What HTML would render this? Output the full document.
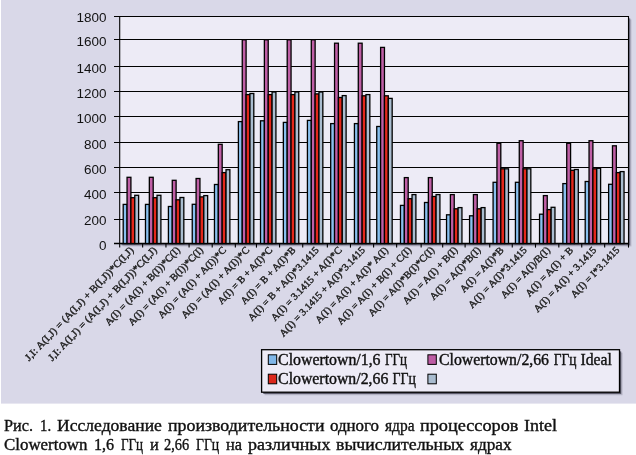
<!DOCTYPE html>
<html lang="ru"><head><meta charset="utf-8"><title>Рис. 1</title>
<style>
html,body{margin:0;padding:0;background:#fff;}
body{width:636px;height:455px;position:relative;overflow:hidden;font-family:"Liberation Serif",serif;}
.cap span{position:absolute;font-size:17.7px;line-height:normal;color:#111;white-space:nowrap;transform-origin:0 0;display:block;-webkit-text-stroke:0.4px #111}
.cap{position:absolute;left:0;top:404px;width:636px;height:51px;filter:grayscale(1)}
</style></head><body>
<svg width="636" height="404" viewBox="0 0 636 404" style="position:absolute;left:0;top:0">
<rect x="1" y="0" width="635" height="403.6" fill="#d9d8e8"/>
<rect x="122.60" y="19.4" width="508.80" height="227.00" fill="#8f8ea0" opacity="0.45"/>
<rect x="121.40" y="18.3" width="508.80" height="227.00" fill="#55546a" opacity="0.75"/>
<rect x="119.70" y="16.5" width="508.80" height="227.00" fill="#edebf6"/>
<line x1="114" y1="16.5" x2="628.50" y2="16.5" stroke="#000" stroke-width="1.1"/>
<line x1="114" y1="39.5" x2="628.50" y2="39.5" stroke="#000" stroke-width="1.1"/>
<line x1="114" y1="66.5" x2="628.50" y2="66.5" stroke="#000" stroke-width="1.1"/>
<line x1="114" y1="91.5" x2="628.50" y2="91.5" stroke="#000" stroke-width="1.1"/>
<line x1="114" y1="116.5" x2="628.50" y2="116.5" stroke="#000" stroke-width="1.1"/>
<line x1="114" y1="142.5" x2="628.50" y2="142.5" stroke="#000" stroke-width="1.1"/>
<line x1="114" y1="167.5" x2="628.50" y2="167.5" stroke="#000" stroke-width="1.1"/>
<line x1="114" y1="192.5" x2="628.50" y2="192.5" stroke="#000" stroke-width="1.1"/>
<line x1="114" y1="219.5" x2="628.50" y2="219.5" stroke="#000" stroke-width="1.1"/>
<line x1="114" y1="243.5" x2="628.50" y2="243.5" stroke="#000" stroke-width="1.4"/>
<line x1="119.70" y1="16" x2="119.70" y2="247.6" stroke="#000" stroke-width="1.1"/>
<line x1="628.50" y1="16" x2="628.50" y2="247.6" stroke="#000" stroke-width="1.1"/>
<line x1="142.63" y1="243.5" x2="142.63" y2="247.6" stroke="#000" stroke-width="1.1"/>
<line x1="165.95" y1="243.5" x2="165.95" y2="247.6" stroke="#000" stroke-width="1.1"/>
<line x1="189.08" y1="243.5" x2="189.08" y2="247.6" stroke="#000" stroke-width="1.1"/>
<line x1="212.21" y1="243.5" x2="212.21" y2="247.6" stroke="#000" stroke-width="1.1"/>
<line x1="235.34" y1="243.5" x2="235.34" y2="247.6" stroke="#000" stroke-width="1.1"/>
<line x1="256.46" y1="243.5" x2="256.46" y2="247.6" stroke="#000" stroke-width="1.1"/>
<line x1="279.59" y1="243.5" x2="279.59" y2="247.6" stroke="#000" stroke-width="1.1"/>
<line x1="302.72" y1="243.5" x2="302.72" y2="247.6" stroke="#000" stroke-width="1.1"/>
<line x1="327.35" y1="243.5" x2="327.35" y2="247.6" stroke="#000" stroke-width="1.1"/>
<line x1="350.47" y1="243.5" x2="350.47" y2="247.6" stroke="#000" stroke-width="1.1"/>
<line x1="373.60" y1="243.5" x2="373.60" y2="247.6" stroke="#000" stroke-width="1.1"/>
<line x1="396.63" y1="243.5" x2="396.63" y2="247.6" stroke="#000" stroke-width="1.1"/>
<line x1="421.15" y1="243.5" x2="421.15" y2="247.6" stroke="#000" stroke-width="1.1"/>
<line x1="442.68" y1="243.5" x2="442.68" y2="247.6" stroke="#000" stroke-width="1.1"/>
<line x1="465.11" y1="243.5" x2="465.11" y2="247.6" stroke="#000" stroke-width="1.1"/>
<line x1="489.74" y1="243.5" x2="489.74" y2="247.6" stroke="#000" stroke-width="1.1"/>
<line x1="512.26" y1="243.5" x2="512.26" y2="247.6" stroke="#000" stroke-width="1.1"/>
<line x1="535.49" y1="243.5" x2="535.49" y2="247.6" stroke="#000" stroke-width="1.1"/>
<line x1="558.82" y1="243.5" x2="558.82" y2="247.6" stroke="#000" stroke-width="1.1"/>
<line x1="581.75" y1="243.5" x2="581.75" y2="247.6" stroke="#000" stroke-width="1.1"/>
<line x1="604.67" y1="243.5" x2="604.67" y2="247.6" stroke="#000" stroke-width="1.1"/>
<rect x="123.20" y="204.40" width="3.85" height="39.10" fill="#89c0ef" stroke="#000" stroke-width="1.3"/>
<rect x="127.06" y="177.30" width="3.85" height="66.20" fill="#bf5fa6" stroke="#000" stroke-width="1.3"/>
<rect x="130.91" y="197.70" width="3.85" height="45.80" fill="#e3281b" stroke="#000" stroke-width="1.3"/>
<rect x="134.77" y="195.30" width="3.85" height="48.20" fill="#aabdd0" stroke="#000" stroke-width="1.3"/>
<rect x="145.48" y="204.40" width="3.85" height="39.10" fill="#89c0ef" stroke="#000" stroke-width="1.3"/>
<rect x="149.34" y="177.30" width="3.85" height="66.20" fill="#bf5fa6" stroke="#000" stroke-width="1.3"/>
<rect x="153.19" y="197.70" width="3.85" height="45.80" fill="#e3281b" stroke="#000" stroke-width="1.3"/>
<rect x="157.05" y="195.30" width="3.85" height="48.20" fill="#aabdd0" stroke="#000" stroke-width="1.3"/>
<rect x="168.41" y="206.50" width="3.85" height="37.00" fill="#89c0ef" stroke="#000" stroke-width="1.3"/>
<rect x="172.26" y="180.30" width="3.85" height="63.20" fill="#bf5fa6" stroke="#000" stroke-width="1.3"/>
<rect x="176.12" y="199.80" width="3.85" height="43.70" fill="#e3281b" stroke="#000" stroke-width="1.3"/>
<rect x="179.97" y="197.50" width="3.85" height="46.00" fill="#aabdd0" stroke="#000" stroke-width="1.3"/>
<rect x="192.24" y="204.30" width="3.85" height="39.20" fill="#89c0ef" stroke="#000" stroke-width="1.3"/>
<rect x="196.09" y="178.50" width="3.85" height="65.00" fill="#bf5fa6" stroke="#000" stroke-width="1.3"/>
<rect x="199.95" y="196.90" width="3.85" height="46.60" fill="#e3281b" stroke="#000" stroke-width="1.3"/>
<rect x="203.80" y="195.60" width="3.85" height="47.90" fill="#aabdd0" stroke="#000" stroke-width="1.3"/>
<rect x="214.46" y="184.50" width="3.85" height="59.00" fill="#89c0ef" stroke="#000" stroke-width="1.3"/>
<rect x="218.32" y="144.30" width="3.85" height="99.20" fill="#bf5fa6" stroke="#000" stroke-width="1.3"/>
<rect x="222.17" y="172.60" width="3.85" height="70.90" fill="#e3281b" stroke="#000" stroke-width="1.3"/>
<rect x="226.03" y="169.70" width="3.85" height="73.80" fill="#aabdd0" stroke="#000" stroke-width="1.3"/>
<rect x="238.39" y="121.60" width="3.85" height="121.90" fill="#89c0ef" stroke="#000" stroke-width="1.3"/>
<rect x="242.25" y="39.80" width="3.85" height="203.70" fill="#bf5fa6" stroke="#000" stroke-width="1.3"/>
<rect x="246.10" y="94.60" width="3.85" height="148.90" fill="#e3281b" stroke="#000" stroke-width="1.3"/>
<rect x="249.95" y="93.50" width="3.85" height="150.00" fill="#aabdd0" stroke="#000" stroke-width="1.3"/>
<rect x="260.52" y="120.80" width="3.85" height="122.70" fill="#89c0ef" stroke="#000" stroke-width="1.3"/>
<rect x="264.37" y="39.80" width="3.85" height="203.70" fill="#bf5fa6" stroke="#000" stroke-width="1.3"/>
<rect x="268.23" y="94.60" width="3.85" height="148.90" fill="#e3281b" stroke="#000" stroke-width="1.3"/>
<rect x="272.08" y="92.00" width="3.85" height="151.50" fill="#aabdd0" stroke="#000" stroke-width="1.3"/>
<rect x="283.35" y="122.40" width="3.85" height="121.10" fill="#89c0ef" stroke="#000" stroke-width="1.3"/>
<rect x="287.20" y="39.80" width="3.85" height="203.70" fill="#bf5fa6" stroke="#000" stroke-width="1.3"/>
<rect x="291.05" y="94.60" width="3.85" height="148.90" fill="#e3281b" stroke="#000" stroke-width="1.3"/>
<rect x="294.91" y="92.00" width="3.85" height="151.50" fill="#aabdd0" stroke="#000" stroke-width="1.3"/>
<rect x="307.42" y="120.40" width="3.85" height="123.10" fill="#89c0ef" stroke="#000" stroke-width="1.3"/>
<rect x="311.28" y="39.80" width="3.85" height="203.70" fill="#bf5fa6" stroke="#000" stroke-width="1.3"/>
<rect x="315.13" y="93.90" width="3.85" height="149.60" fill="#e3281b" stroke="#000" stroke-width="1.3"/>
<rect x="318.99" y="92.00" width="3.85" height="151.50" fill="#aabdd0" stroke="#000" stroke-width="1.3"/>
<rect x="330.70" y="123.60" width="3.85" height="119.90" fill="#89c0ef" stroke="#000" stroke-width="1.3"/>
<rect x="334.55" y="43.20" width="3.85" height="200.30" fill="#bf5fa6" stroke="#000" stroke-width="1.3"/>
<rect x="338.41" y="97.50" width="3.85" height="146.00" fill="#e3281b" stroke="#000" stroke-width="1.3"/>
<rect x="342.26" y="95.60" width="3.85" height="147.90" fill="#aabdd0" stroke="#000" stroke-width="1.3"/>
<rect x="354.43" y="123.60" width="3.85" height="119.90" fill="#89c0ef" stroke="#000" stroke-width="1.3"/>
<rect x="358.28" y="43.20" width="3.85" height="200.30" fill="#bf5fa6" stroke="#000" stroke-width="1.3"/>
<rect x="362.14" y="95.80" width="3.85" height="147.70" fill="#e3281b" stroke="#000" stroke-width="1.3"/>
<rect x="365.99" y="94.60" width="3.85" height="148.90" fill="#aabdd0" stroke="#000" stroke-width="1.3"/>
<rect x="376.75" y="126.50" width="3.85" height="117.00" fill="#89c0ef" stroke="#000" stroke-width="1.3"/>
<rect x="380.61" y="47.40" width="3.85" height="196.10" fill="#bf5fa6" stroke="#000" stroke-width="1.3"/>
<rect x="384.46" y="95.80" width="3.85" height="147.70" fill="#e3281b" stroke="#000" stroke-width="1.3"/>
<rect x="388.32" y="98.40" width="3.85" height="145.10" fill="#aabdd0" stroke="#000" stroke-width="1.3"/>
<rect x="400.48" y="205.40" width="3.85" height="38.10" fill="#89c0ef" stroke="#000" stroke-width="1.3"/>
<rect x="404.34" y="177.60" width="3.85" height="65.90" fill="#bf5fa6" stroke="#000" stroke-width="1.3"/>
<rect x="408.19" y="198.70" width="3.85" height="44.80" fill="#e3281b" stroke="#000" stroke-width="1.3"/>
<rect x="412.05" y="194.60" width="3.85" height="48.90" fill="#aabdd0" stroke="#000" stroke-width="1.3"/>
<rect x="424.51" y="202.50" width="3.85" height="41.00" fill="#89c0ef" stroke="#000" stroke-width="1.3"/>
<rect x="428.36" y="177.60" width="3.85" height="65.90" fill="#bf5fa6" stroke="#000" stroke-width="1.3"/>
<rect x="432.22" y="196.50" width="3.85" height="47.00" fill="#e3281b" stroke="#000" stroke-width="1.3"/>
<rect x="436.07" y="194.60" width="3.85" height="48.90" fill="#aabdd0" stroke="#000" stroke-width="1.3"/>
<rect x="446.54" y="214.80" width="3.85" height="28.70" fill="#89c0ef" stroke="#000" stroke-width="1.3"/>
<rect x="450.39" y="194.60" width="3.85" height="48.90" fill="#bf5fa6" stroke="#000" stroke-width="1.3"/>
<rect x="454.25" y="208.80" width="3.85" height="34.70" fill="#e3281b" stroke="#000" stroke-width="1.3"/>
<rect x="458.10" y="207.60" width="3.85" height="35.90" fill="#aabdd0" stroke="#000" stroke-width="1.3"/>
<rect x="469.56" y="215.80" width="3.85" height="27.70" fill="#89c0ef" stroke="#000" stroke-width="1.3"/>
<rect x="473.42" y="194.60" width="3.85" height="48.90" fill="#bf5fa6" stroke="#000" stroke-width="1.3"/>
<rect x="477.27" y="208.80" width="3.85" height="34.70" fill="#e3281b" stroke="#000" stroke-width="1.3"/>
<rect x="481.13" y="207.60" width="3.85" height="35.90" fill="#aabdd0" stroke="#000" stroke-width="1.3"/>
<rect x="493.09" y="182.30" width="3.85" height="61.20" fill="#89c0ef" stroke="#000" stroke-width="1.3"/>
<rect x="496.95" y="143.30" width="3.85" height="100.20" fill="#bf5fa6" stroke="#000" stroke-width="1.3"/>
<rect x="500.80" y="168.80" width="3.85" height="74.70" fill="#e3281b" stroke="#000" stroke-width="1.3"/>
<rect x="504.65" y="168.80" width="3.85" height="74.70" fill="#aabdd0" stroke="#000" stroke-width="1.3"/>
<rect x="515.42" y="182.30" width="3.85" height="61.20" fill="#89c0ef" stroke="#000" stroke-width="1.3"/>
<rect x="519.27" y="140.70" width="3.85" height="102.80" fill="#bf5fa6" stroke="#000" stroke-width="1.3"/>
<rect x="523.13" y="168.80" width="3.85" height="74.70" fill="#e3281b" stroke="#000" stroke-width="1.3"/>
<rect x="526.98" y="168.80" width="3.85" height="74.70" fill="#aabdd0" stroke="#000" stroke-width="1.3"/>
<rect x="539.55" y="214.20" width="3.85" height="29.30" fill="#89c0ef" stroke="#000" stroke-width="1.3"/>
<rect x="543.40" y="195.60" width="3.85" height="47.90" fill="#bf5fa6" stroke="#000" stroke-width="1.3"/>
<rect x="547.25" y="209.60" width="3.85" height="33.90" fill="#e3281b" stroke="#000" stroke-width="1.3"/>
<rect x="551.11" y="207.30" width="3.85" height="36.20" fill="#aabdd0" stroke="#000" stroke-width="1.3"/>
<rect x="562.87" y="183.60" width="3.85" height="59.90" fill="#89c0ef" stroke="#000" stroke-width="1.3"/>
<rect x="566.73" y="143.30" width="3.85" height="100.20" fill="#bf5fa6" stroke="#000" stroke-width="1.3"/>
<rect x="570.58" y="170.30" width="3.85" height="73.20" fill="#e3281b" stroke="#000" stroke-width="1.3"/>
<rect x="574.44" y="169.50" width="3.85" height="74.00" fill="#aabdd0" stroke="#000" stroke-width="1.3"/>
<rect x="585.20" y="181.50" width="3.85" height="62.00" fill="#89c0ef" stroke="#000" stroke-width="1.3"/>
<rect x="589.05" y="140.70" width="3.85" height="102.80" fill="#bf5fa6" stroke="#000" stroke-width="1.3"/>
<rect x="592.91" y="168.80" width="3.85" height="74.70" fill="#e3281b" stroke="#000" stroke-width="1.3"/>
<rect x="596.76" y="168.30" width="3.85" height="75.20" fill="#aabdd0" stroke="#000" stroke-width="1.3"/>
<rect x="608.63" y="184.30" width="3.85" height="59.20" fill="#89c0ef" stroke="#000" stroke-width="1.3"/>
<rect x="612.48" y="145.80" width="3.85" height="97.70" fill="#bf5fa6" stroke="#000" stroke-width="1.3"/>
<rect x="616.34" y="172.60" width="3.85" height="70.90" fill="#e3281b" stroke="#000" stroke-width="1.3"/>
<rect x="620.19" y="171.60" width="3.85" height="71.90" fill="#aabdd0" stroke="#000" stroke-width="1.3"/>
<g opacity="0.995">
<text x="106.5" y="21.7" text-anchor="end" font-family="'Liberation Sans', sans-serif" font-size="13" fill="#111" textLength="30.0" lengthAdjust="spacingAndGlyphs">1800</text>
<text x="106.5" y="46.4" text-anchor="end" font-family="'Liberation Sans', sans-serif" font-size="13" fill="#111" textLength="30.0" lengthAdjust="spacingAndGlyphs">1600</text>
<text x="106.5" y="73.3" text-anchor="end" font-family="'Liberation Sans', sans-serif" font-size="13" fill="#111" textLength="30.0" lengthAdjust="spacingAndGlyphs">1400</text>
<text x="106.5" y="98.4" text-anchor="end" font-family="'Liberation Sans', sans-serif" font-size="13" fill="#111" textLength="30.0" lengthAdjust="spacingAndGlyphs">1200</text>
<text x="106.5" y="122.9" text-anchor="end" font-family="'Liberation Sans', sans-serif" font-size="13" fill="#111" textLength="30.0" lengthAdjust="spacingAndGlyphs">1000</text>
<text x="106.5" y="148.7" text-anchor="end" font-family="'Liberation Sans', sans-serif" font-size="13" fill="#111" textLength="22.5" lengthAdjust="spacingAndGlyphs">800</text>
<text x="106.5" y="174.3" text-anchor="end" font-family="'Liberation Sans', sans-serif" font-size="13" fill="#111" textLength="22.5" lengthAdjust="spacingAndGlyphs">600</text>
<text x="106.5" y="199.0" text-anchor="end" font-family="'Liberation Sans', sans-serif" font-size="13" fill="#111" textLength="22.5" lengthAdjust="spacingAndGlyphs">400</text>
<text x="106.5" y="224.8" text-anchor="end" font-family="'Liberation Sans', sans-serif" font-size="13" fill="#111" textLength="22.5" lengthAdjust="spacingAndGlyphs">200</text>
<text x="106.5" y="249.9" text-anchor="end" font-family="'Liberation Sans', sans-serif" font-size="13" fill="#111" textLength="7.5" lengthAdjust="spacingAndGlyphs">0</text>
<text transform="translate(134.26,250.6) rotate(-46.5)" text-anchor="end" font-family="'Liberation Serif', serif" font-size="10" fill="#222" stroke="#222" stroke-width="0.42" textLength="152.8" lengthAdjust="spacingAndGlyphs">J,I: A(I,J) = (A(I,J) + B(I,J))*C(I,J)</text>
<text transform="translate(157.39,250.6) rotate(-46.5)" text-anchor="end" font-family="'Liberation Serif', serif" font-size="10" fill="#222" stroke="#222" stroke-width="0.42" textLength="152.8" lengthAdjust="spacingAndGlyphs">J,I: A(I,J) = (A(I,J) + B(I,J))*C(I,J)</text>
<text transform="translate(180.52,250.6) rotate(-46.5)" text-anchor="end" font-family="'Liberation Serif', serif" font-size="10" fill="#222" stroke="#222" stroke-width="0.42" textLength="103.8" lengthAdjust="spacingAndGlyphs">A(I) = (A(I) + B(I))*C(I)</text>
<text transform="translate(203.65,250.6) rotate(-46.5)" text-anchor="end" font-family="'Liberation Serif', serif" font-size="10" fill="#222" stroke="#222" stroke-width="0.42" textLength="103.8" lengthAdjust="spacingAndGlyphs">A(I) = (A(I) + B(I))*C(I)</text>
<text transform="translate(226.77,250.6) rotate(-46.5)" text-anchor="end" font-family="'Liberation Serif', serif" font-size="10" fill="#222" stroke="#222" stroke-width="0.42" textLength="94.1" lengthAdjust="spacingAndGlyphs">A(I) = (A(I) + A(I))*C</text>
<text transform="translate(249.90,250.6) rotate(-46.5)" text-anchor="end" font-family="'Liberation Serif', serif" font-size="10" fill="#222" stroke="#222" stroke-width="0.42" textLength="94.1" lengthAdjust="spacingAndGlyphs">A(I) = (A(I) + A(I))*C</text>
<text transform="translate(273.03,250.6) rotate(-46.5)" text-anchor="end" font-family="'Liberation Serif', serif" font-size="10" fill="#222" stroke="#222" stroke-width="0.42" textLength="74.5" lengthAdjust="spacingAndGlyphs">A(I) = B + A(I)*C</text>
<text transform="translate(296.15,250.6) rotate(-46.5)" text-anchor="end" font-family="'Liberation Serif', serif" font-size="10" fill="#222" stroke="#222" stroke-width="0.42" textLength="74.5" lengthAdjust="spacingAndGlyphs">A(I) = B + A(I)*B</text>
<text transform="translate(319.28,250.6) rotate(-46.5)" text-anchor="end" font-family="'Liberation Serif', serif" font-size="10" fill="#222" stroke="#222" stroke-width="0.42" textLength="97.8" lengthAdjust="spacingAndGlyphs">A(I) = B + A(I)*3.1415</text>
<text transform="translate(342.41,250.6) rotate(-46.5)" text-anchor="end" font-family="'Liberation Serif', serif" font-size="10" fill="#222" stroke="#222" stroke-width="0.42" textLength="97.8" lengthAdjust="spacingAndGlyphs">A(I) = 3.1415 + A(I)*C</text>
<text transform="translate(365.54,250.6) rotate(-46.5)" text-anchor="end" font-family="'Liberation Serif', serif" font-size="10" fill="#222" stroke="#222" stroke-width="0.42" textLength="119.3" lengthAdjust="spacingAndGlyphs">A(I) = 3.1415 + A(I)*3.1415</text>
<text transform="translate(388.66,250.6) rotate(-46.5)" text-anchor="end" font-family="'Liberation Serif', serif" font-size="10" fill="#222" stroke="#222" stroke-width="0.42" textLength="100.7" lengthAdjust="spacingAndGlyphs">A(I) = A(I) + A(I)* A(I)</text>
<text transform="translate(411.79,250.6) rotate(-46.5)" text-anchor="end" font-family="'Liberation Serif', serif" font-size="10" fill="#222" stroke="#222" stroke-width="0.42" textLength="102.8" lengthAdjust="spacingAndGlyphs">A(I) = A(I) + B(I) + C(I)</text>
<text transform="translate(434.92,250.6) rotate(-46.5)" text-anchor="end" font-family="'Liberation Serif', serif" font-size="10" fill="#222" stroke="#222" stroke-width="0.42" textLength="91.2" lengthAdjust="spacingAndGlyphs">A(I) = A(I)*B(I)*C(I)</text>
<text transform="translate(458.05,250.6) rotate(-46.5)" text-anchor="end" font-family="'Liberation Serif', serif" font-size="10" fill="#222" stroke="#222" stroke-width="0.42" textLength="74.6" lengthAdjust="spacingAndGlyphs">A(I) = A(I) + B(I)</text>
<text transform="translate(481.17,250.6) rotate(-46.5)" text-anchor="end" font-family="'Liberation Serif', serif" font-size="10" fill="#222" stroke="#222" stroke-width="0.42" textLength="68.8" lengthAdjust="spacingAndGlyphs">A(I) = A(I)*B(I)</text>
<text transform="translate(504.30,250.6) rotate(-46.5)" text-anchor="end" font-family="'Liberation Serif', serif" font-size="10" fill="#222" stroke="#222" stroke-width="0.42" textLength="58.5" lengthAdjust="spacingAndGlyphs">A(I) = A(I)*B</text>
<text transform="translate(527.43,250.6) rotate(-46.5)" text-anchor="end" font-family="'Liberation Serif', serif" font-size="10" fill="#222" stroke="#222" stroke-width="0.42" textLength="80.0" lengthAdjust="spacingAndGlyphs">A(I) = A(I)*3.1415</text>
<text transform="translate(550.55,250.6) rotate(-46.5)" text-anchor="end" font-family="'Liberation Serif', serif" font-size="10" fill="#222" stroke="#222" stroke-width="0.42" textLength="66.5" lengthAdjust="spacingAndGlyphs">A(I) = A(I)/B(I)</text>
<text transform="translate(573.68,250.6) rotate(-46.5)" text-anchor="end" font-family="'Liberation Serif', serif" font-size="10" fill="#222" stroke="#222" stroke-width="0.42" textLength="64.3" lengthAdjust="spacingAndGlyphs">A(I) = A(I) + B</text>
<text transform="translate(596.81,250.6) rotate(-46.5)" text-anchor="end" font-family="'Liberation Serif', serif" font-size="10" fill="#222" stroke="#222" stroke-width="0.42" textLength="85.8" lengthAdjust="spacingAndGlyphs">A(I) = A(I) + 3.1415</text>
<text transform="translate(619.94,250.6) rotate(-46.5)" text-anchor="end" font-family="'Liberation Serif', serif" font-size="10" fill="#222" stroke="#222" stroke-width="0.42" textLength="65.7" lengthAdjust="spacingAndGlyphs">A(I) = I*3.1415</text>
</g>
<rect x="264.6" y="352.7" width="357.9" height="42.5" fill="#8f8ea0" opacity="0.5"/>
<rect x="263.3" y="351.4" width="357.9" height="42.5" fill="#3a3948" opacity="0.8"/>
<rect x="261.6" y="349.7" width="357.9" height="42.5" fill="#edebf6" stroke="#000" stroke-width="1.3"/>
<rect x="268.3" y="354.8" width="8.4" height="9.6" fill="#80b7e9" stroke="#000" stroke-width="1"/>
<rect x="268.3" y="374.2" width="8.4" height="9.6" fill="#dc281c" stroke="#000" stroke-width="1"/>
<rect x="427.9" y="354.8" width="8.4" height="9.6" fill="#bd5ca4" stroke="#000" stroke-width="1"/>
<rect x="427.9" y="374.2" width="8.4" height="9.6" fill="#a9bccf" stroke="#000" stroke-width="1"/>
<g style="filter:grayscale(1)">
<text x="278.1" y="365" font-family="'Liberation Serif', serif" font-size="16" fill="#111" stroke="#111" stroke-width="0.4" textLength="102.4" lengthAdjust="spacingAndGlyphs">Clowertown/1,6</text>
<text x="385.0" y="365" font-family="'Liberation Serif', serif" font-size="16" fill="#111" stroke="#111" stroke-width="0.4" textLength="22.0" lengthAdjust="spacingAndGlyphs">ГГц</text>
<text x="278.1" y="384.3" font-family="'Liberation Serif', serif" font-size="16" fill="#111" stroke="#111" stroke-width="0.4" textLength="110.2" lengthAdjust="spacingAndGlyphs">Clowertown/2,66</text>
<text x="392.5" y="384.3" font-family="'Liberation Serif', serif" font-size="16" fill="#111" stroke="#111" stroke-width="0.4" textLength="23.3" lengthAdjust="spacingAndGlyphs">ГГц</text>
<text x="439.0" y="365" font-family="'Liberation Serif', serif" font-size="16" fill="#111" stroke="#111" stroke-width="0.4" textLength="110.0" lengthAdjust="spacingAndGlyphs">Clowertown/2,66</text>
<text x="553.8" y="365" font-family="'Liberation Serif', serif" font-size="16" fill="#111" stroke="#111" stroke-width="0.4" textLength="22.6" lengthAdjust="spacingAndGlyphs">ГГц</text>
<text x="580.5" y="365" font-family="'Liberation Serif', serif" font-size="16" fill="#111" stroke="#111" stroke-width="0.4" textLength="31.4" lengthAdjust="spacingAndGlyphs">Ideal</text>
</g>
</svg>
<div class="cap">
<span style="left:4.4px;top:11.23px;transform:scaleX(0.918)">Рис.</span>
<span style="left:40.36px;top:11.23px;transform:scaleX(0.8359)">1.</span>
<span style="left:57.2px;top:11.23px;transform:scaleX(0.9937)">Исследование</span>
<span style="left:167.7px;top:11.23px;transform:scaleX(1.01)">производительности</span>
<span style="left:329.6px;top:11.23px;transform:scaleX(0.9542)">одного</span>
<span style="left:385.0px;top:11.23px;transform:scaleX(0.8741)">ядра</span>
<span style="left:419.5px;top:11.23px;transform:scaleX(1.03)">процессоров</span>
<span style="left:523.6px;top:11.23px;transform:scaleX(1.0185)">Intel</span>
<span style="left:4.4px;top:30.23px;transform:scaleX(0.9543)">Clowertown</span>
<span style="left:94.19px;top:30.23px;transform:scaleX(0.9123)">1,6</span>
<span style="left:120.6px;top:30.23px;transform:scaleX(0.7356)">ГГц</span>
<span style="left:149.6px;top:30.23px;transform:scaleX(0.93)">и</span>
<span style="left:163.9px;top:30.23px;transform:scaleX(0.8133)">2,66</span>
<span style="left:195.8px;top:30.23px;transform:scaleX(0.775)">ГГц</span>
<span style="left:225.6px;top:30.23px;transform:scaleX(0.9275)">на</span>
<span style="left:247.6px;top:30.23px;transform:scaleX(1.017)">различных</span>
<span style="left:336.3px;top:30.23px;transform:scaleX(1.0042)">вычислительных</span>
<span style="left:469.8px;top:30.23px;transform:scaleX(0.9736)">ядрах</span>
</div>
</body></html>
